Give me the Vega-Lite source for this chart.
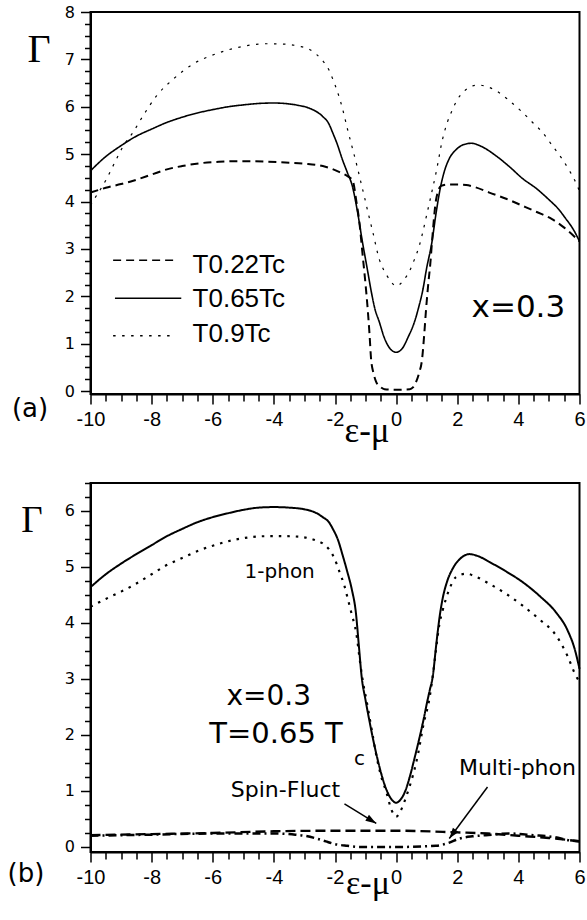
{
"$schema": "https://vega.github.io/schema/vega-lite/v6.json",
"background": "white",
"padding": {"left": 6.5, "top": 3, "right": 2, "bottom": 2},
"bounds": "flush",
"spacing": 89,
"resolve": {"scale": {"strokeDash": "independent", "strokeWidth": "independent"}},
"config": {
 "view": {"stroke": "black", "strokeWidth": 2},
 "axis": {"domainColor": "black", "domainWidth": 2, "tickColor": "black", "tickWidth": 1.5, "labelColor": "black", "grid": false, "labelOverlap": false, "labelFlush": false, "titleColor": "black", "titleFontWeight": "normal"},
 "line": {"color": "black"},
 "rule": {"color": "black"},
 "text": {"color": "black"}
},
"vconcat": [
{
 "width": 489, "height": 382,
 "encoding": {
  "x": {"field": "x", "type": "quantitative", "scale": {"domain": [-10, 6], "nice": false, "zero": false},
   "axis": {"values": [-10,-9.5,-9,-8.5,-8,-7.5,-7,-6.5,-6,-5.5,-5,-4.5,-4,-3.5,-3,-2.5,-2,-1.5,-1,-0.5,0,0.5,1,1.5,2,2.5,3,3.5,4,4.5,5,5.5,6],
    "labelExpr": "datum.value % 2 === 0 ? '' + datum.value : ''",
    "tickSize": {"condition": {"test": "datum.value % 2 === 0", "value": 10}, "value": 7},
    "labelFont": "Liberation Sans", "labelFontSize": 20, "labelPadding": 5,
    "title": "ε-μ", "titleFont": "Liberation Serif", "titleFontSize": 35, "titleX": 276, "titleY": 47, "titleAlign": "center", "titleBaseline": "alphabetic"}},
  "y": {"field": "y", "type": "quantitative", "scale": {"domain": [-0.06, 8], "nice": false, "zero": false},
   "axis": {"values": [0,0.25,0.5,0.75,1,1.25,1.5,1.75,2,2.25,2.5,2.75,3,3.25,3.5,3.75,4,4.25,4.5,4.75,5,5.25,5.5,5.75,6,6.25,6.5,6.75,7,7.25,7.5,7.75,8],
    "labelExpr": "datum.value % 1 === 0 ? '' + datum.value : ''",
    "tickSize": {"condition": {"test": "datum.value % 1 === 0", "value": 10}, "value": 6},
    "labelFont": "DejaVu Sans", "labelFontSize": 16, "labelPadding": 6,
    "title": "Γ", "titleFont": "Liberation Serif", "titleFontSize": 40, "titleAngle": 0, "titleX": -52, "titleY": 49, "titleAlign": "center", "titleBaseline": "alphabetic"}}
 },
 "layer": [
  {
   "data": {"values": [
{"x":-10,"y":4.65,"s":"T0.65Tc"},{"x":-9.5,"y":4.95,"s":"T0.65Tc"},{"x":-9,"y":5.18,"s":"T0.65Tc"},{"x":-8.5,"y":5.38,"s":"T0.65Tc"},{"x":-8,"y":5.53,"s":"T0.65Tc"},{"x":-7.5,"y":5.67,"s":"T0.65Tc"},{"x":-7,"y":5.78,"s":"T0.65Tc"},{"x":-6.5,"y":5.87,"s":"T0.65Tc"},{"x":-6,"y":5.94,"s":"T0.65Tc"},{"x":-5.5,"y":6.0,"s":"T0.65Tc"},{"x":-5,"y":6.04,"s":"T0.65Tc"},{"x":-4.5,"y":6.07,"s":"T0.65Tc"},{"x":-4,"y":6.08,"s":"T0.65Tc"},{"x":-3.5,"y":6.06,"s":"T0.65Tc"},{"x":-3.2,"y":6.03,"s":"T0.65Tc"},{"x":-2.8,"y":5.96,"s":"T0.65Tc"},{"x":-2.41,"y":5.8,"s":"T0.65Tc"},{"x":-2.2,"y":5.64,"s":"T0.65Tc"},{"x":-2.08,"y":5.46,"s":"T0.65Tc"},{"x":-1.92,"y":5.2,"s":"T0.65Tc"},{"x":-1.76,"y":4.89,"s":"T0.65Tc"},{"x":-1.6,"y":4.62,"s":"T0.65Tc"},{"x":-1.43,"y":4.32,"s":"T0.65Tc"},{"x":-1.26,"y":3.77,"s":"T0.65Tc"},{"x":-1.1,"y":3.14,"s":"T0.65Tc"},{"x":-0.95,"y":2.6,"s":"T0.65Tc"},{"x":-0.81,"y":2.09,"s":"T0.65Tc"},{"x":-0.7,"y":1.75,"s":"T0.65Tc"},{"x":-0.55,"y":1.46,"s":"T0.65Tc"},{"x":-0.4,"y":1.15,"s":"T0.65Tc"},{"x":-0.2,"y":0.9,"s":"T0.65Tc"},{"x":0,"y":0.82,"s":"T0.65Tc"},{"x":0.2,"y":0.9,"s":"T0.65Tc"},{"x":0.4,"y":1.15,"s":"T0.65Tc"},{"x":0.6,"y":1.46,"s":"T0.65Tc"},{"x":0.75,"y":1.8,"s":"T0.65Tc"},{"x":0.86,"y":2.09,"s":"T0.65Tc"},{"x":1.0,"y":2.6,"s":"T0.65Tc"},{"x":1.17,"y":3.14,"s":"T0.65Tc"},{"x":1.31,"y":3.77,"s":"T0.65Tc"},{"x":1.45,"y":4.3,"s":"T0.65Tc"},{"x":1.57,"y":4.62,"s":"T0.65Tc"},{"x":1.75,"y":4.92,"s":"T0.65Tc"},{"x":1.97,"y":5.1,"s":"T0.65Tc"},{"x":2.2,"y":5.2,"s":"T0.65Tc"},{"x":2.46,"y":5.23,"s":"T0.65Tc"},{"x":2.8,"y":5.16,"s":"T0.65Tc"},{"x":3.28,"y":4.96,"s":"T0.65Tc"},{"x":3.7,"y":4.74,"s":"T0.65Tc"},{"x":4.13,"y":4.49,"s":"T0.65Tc"},{"x":4.6,"y":4.27,"s":"T0.65Tc"},{"x":5.0,"y":4.04,"s":"T0.65Tc"},{"x":5.3,"y":3.85,"s":"T0.65Tc"},{"x":5.55,"y":3.64,"s":"T0.65Tc"},{"x":5.8,"y":3.41,"s":"T0.65Tc"},{"x":6.0,"y":3.16,"s":"T0.65Tc"},
{"x":-10,"y":4.19,"s":"T0.22Tc"},{"x":-9.5,"y":4.29,"s":"T0.22Tc"},{"x":-9,"y":4.37,"s":"T0.22Tc"},{"x":-8.6,"y":4.44,"s":"T0.22Tc"},{"x":-8,"y":4.57,"s":"T0.22Tc"},{"x":-7.5,"y":4.68,"s":"T0.22Tc"},{"x":-7,"y":4.75,"s":"T0.22Tc"},{"x":-6.4,"y":4.81,"s":"T0.22Tc"},{"x":-5.8,"y":4.84,"s":"T0.22Tc"},{"x":-5.3,"y":4.85,"s":"T0.22Tc"},{"x":-4.7,"y":4.85,"s":"T0.22Tc"},{"x":-4.2,"y":4.84,"s":"T0.22Tc"},{"x":-3.5,"y":4.82,"s":"T0.22Tc"},{"x":-3,"y":4.8,"s":"T0.22Tc"},{"x":-2.4,"y":4.75,"s":"T0.22Tc"},{"x":-2.1,"y":4.69,"s":"T0.22Tc"},{"x":-1.85,"y":4.62,"s":"T0.22Tc"},{"x":-1.6,"y":4.54,"s":"T0.22Tc"},{"x":-1.42,"y":4.44,"s":"T0.22Tc"},{"x":-1.3,"y":4.0,"s":"T0.22Tc"},{"x":-1.2,"y":3.55,"s":"T0.22Tc"},{"x":-1.1,"y":2.9,"s":"T0.22Tc"},{"x":-1.0,"y":2.25,"s":"T0.22Tc"},{"x":-0.93,"y":1.73,"s":"T0.22Tc"},{"x":-0.87,"y":1.2,"s":"T0.22Tc"},{"x":-0.82,"y":0.68,"s":"T0.22Tc"},{"x":-0.74,"y":0.38,"s":"T0.22Tc"},{"x":-0.65,"y":0.19,"s":"T0.22Tc"},{"x":-0.5,"y":0.08,"s":"T0.22Tc"},{"x":-0.38,"y":0.04,"s":"T0.22Tc"},{"x":0,"y":0.03,"s":"T0.22Tc"},{"x":0.45,"y":0.04,"s":"T0.22Tc"},{"x":0.55,"y":0.08,"s":"T0.22Tc"},{"x":0.65,"y":0.19,"s":"T0.22Tc"},{"x":0.75,"y":0.38,"s":"T0.22Tc"},{"x":0.85,"y":0.68,"s":"T0.22Tc"},{"x":0.92,"y":1.2,"s":"T0.22Tc"},{"x":0.98,"y":1.73,"s":"T0.22Tc"},{"x":1.05,"y":2.25,"s":"T0.22Tc"},{"x":1.12,"y":2.7,"s":"T0.22Tc"},{"x":1.18,"y":3.2,"s":"T0.22Tc"},{"x":1.31,"y":4.05,"s":"T0.22Tc"},{"x":1.47,"y":4.33,"s":"T0.22Tc"},{"x":1.7,"y":4.36,"s":"T0.22Tc"},{"x":2.0,"y":4.36,"s":"T0.22Tc"},{"x":2.29,"y":4.35,"s":"T0.22Tc"},{"x":2.6,"y":4.3,"s":"T0.22Tc"},{"x":3.05,"y":4.19,"s":"T0.22Tc"},{"x":3.6,"y":4.06,"s":"T0.22Tc"},{"x":4.14,"y":3.91,"s":"T0.22Tc"},{"x":4.6,"y":3.78,"s":"T0.22Tc"},{"x":5.1,"y":3.63,"s":"T0.22Tc"},{"x":5.5,"y":3.45,"s":"T0.22Tc"},{"x":6,"y":3.16,"s":"T0.22Tc"},
{"x":-10,"y":3.92,"s":"T0.9Tc"},{"x":-9.88,"y":4.05,"s":"T0.9Tc"},{"x":-9.7,"y":4.23,"s":"T0.9Tc"},{"x":-9.48,"y":4.47,"s":"T0.9Tc"},{"x":-9.21,"y":4.82,"s":"T0.9Tc"},{"x":-8.93,"y":5.17,"s":"T0.9Tc"},{"x":-8.61,"y":5.46,"s":"T0.9Tc"},{"x":-8.28,"y":5.81,"s":"T0.9Tc"},{"x":-7.84,"y":6.23,"s":"T0.9Tc"},{"x":-7.3,"y":6.58,"s":"T0.9Tc"},{"x":-6.65,"y":6.9,"s":"T0.9Tc"},{"x":-5.88,"y":7.12,"s":"T0.9Tc"},{"x":-5.12,"y":7.26,"s":"T0.9Tc"},{"x":-4.25,"y":7.33,"s":"T0.9Tc"},{"x":-3.59,"y":7.32,"s":"T0.9Tc"},{"x":-3.2,"y":7.28,"s":"T0.9Tc"},{"x":-2.83,"y":7.21,"s":"T0.9Tc"},{"x":-2.6,"y":7.1,"s":"T0.9Tc"},{"x":-2.4,"y":6.97,"s":"T0.9Tc"},{"x":-2.2,"y":6.78,"s":"T0.9Tc"},{"x":-2.07,"y":6.58,"s":"T0.9Tc"},{"x":-1.9,"y":6.28,"s":"T0.9Tc"},{"x":-1.75,"y":5.95,"s":"T0.9Tc"},{"x":-1.6,"y":5.55,"s":"T0.9Tc"},{"x":-1.42,"y":5.1,"s":"T0.9Tc"},{"x":-1.28,"y":4.75,"s":"T0.9Tc"},{"x":-1.15,"y":4.4,"s":"T0.9Tc"},{"x":-1.03,"y":4.08,"s":"T0.9Tc"},{"x":-0.93,"y":3.8,"s":"T0.9Tc"},{"x":-0.76,"y":3.35,"s":"T0.9Tc"},{"x":-0.55,"y":2.78,"s":"T0.9Tc"},{"x":-0.4,"y":2.55,"s":"T0.9Tc"},{"x":-0.22,"y":2.36,"s":"T0.9Tc"},{"x":0,"y":2.22,"s":"T0.9Tc"},{"x":0.27,"y":2.36,"s":"T0.9Tc"},{"x":0.45,"y":2.55,"s":"T0.9Tc"},{"x":0.6,"y":2.78,"s":"T0.9Tc"},{"x":0.75,"y":3.05,"s":"T0.9Tc"},{"x":0.87,"y":3.35,"s":"T0.9Tc"},{"x":0.98,"y":3.66,"s":"T0.9Tc"},{"x":1.15,"y":4.15,"s":"T0.9Tc"},{"x":1.31,"y":4.62,"s":"T0.9Tc"},{"x":1.52,"y":5.32,"s":"T0.9Tc"},{"x":1.68,"y":5.68,"s":"T0.9Tc"},{"x":1.85,"y":5.95,"s":"T0.9Tc"},{"x":2.0,"y":6.15,"s":"T0.9Tc"},{"x":2.18,"y":6.3,"s":"T0.9Tc"},{"x":2.4,"y":6.41,"s":"T0.9Tc"},{"x":2.67,"y":6.46,"s":"T0.9Tc"},{"x":2.95,"y":6.43,"s":"T0.9Tc"},{"x":3.27,"y":6.34,"s":"T0.9Tc"},{"x":3.7,"y":6.13,"s":"T0.9Tc"},{"x":4.14,"y":5.88,"s":"T0.9Tc"},{"x":4.45,"y":5.68,"s":"T0.9Tc"},{"x":4.79,"y":5.46,"s":"T0.9Tc"},{"x":5.1,"y":5.19,"s":"T0.9Tc"},{"x":5.44,"y":4.89,"s":"T0.9Tc"},{"x":5.7,"y":4.62,"s":"T0.9Tc"},{"x":5.93,"y":4.33,"s":"T0.9Tc"},{"x":6,"y":4.22,"s":"T0.9Tc"}
   ]},
   "mark": {"type": "line", "color": "black", "interpolate": "monotone"},
   "encoding": {
    "detail": {"field": "s", "type": "nominal"},
    "strokeDash": {"field": "s", "type": "nominal", "scale": {"domain": ["T0.22Tc", "T0.65Tc", "T0.9Tc"], "range": [[8, 5], [1, 0], [2.5, 6.5]]}, "legend": null},
    "strokeWidth": {"field": "s", "type": "nominal", "scale": {"domain": ["T0.22Tc", "T0.65Tc", "T0.9Tc"], "range": [2, 1.2, 2.5]}, "legend": null}
   }
  },
  {
   "data": {"values": [
    {"x": -9.26, "x2": -7.15, "y": 2.76, "s": "T0.22Tc"},
    {"x": -9.2, "x2": -7.03, "y": 1.96, "s": "T0.65Tc"},
    {"x": -9.26, "x2": -7.31, "y": 1.17, "s": "T0.9Tc"}
   ]},
   "mark": {"type": "rule", "color": "black", "strokeWidth": 1.5},
   "encoding": {
    "x2": {"field": "x2"},
    "strokeDash": {"field": "s", "type": "nominal", "legend": null}
   }
  },
  {
   "data": {"values": [
    {"x": -6.66, "y": 2.5, "t": "T0.22Tc"},
    {"x": -6.66, "y": 1.77, "t": "T0.65Tc"},
    {"x": -6.66, "y": 1.03, "t": "T0.9Tc"}
   ]},
   "mark": {"type": "text", "font": "Liberation Sans", "fontSize": 26, "align": "left", "baseline": "alphabetic"},
   "encoding": {"text": {"field": "t"}}
  },
  {
   "data": {"values": [{"x": 4.0, "y": 1.56, "t": "x=0.3"}]},
   "mark": {"type": "text", "font": "DejaVu Sans", "fontSize": 31, "align": "center", "baseline": "alphabetic"},
   "encoding": {"text": {"field": "t"}}
  },
  {
   "data": {"values": [{"x": -11.98, "y": -0.55, "t": "(a)"}]},
   "mark": {"type": "text", "font": "DejaVu Sans", "fontSize": 26, "align": "center", "baseline": "alphabetic"},
   "encoding": {"text": {"field": "t"}}
  }
 ]
},
{
 "width": 489, "height": 369,
 "encoding": {
  "x": {"field": "x", "type": "quantitative", "scale": {"domain": [-10, 6], "nice": false, "zero": false},
   "axis": {"values": [-10,-9.5,-9,-8.5,-8,-7.5,-7,-6.5,-6,-5.5,-5,-4.5,-4,-3.5,-3,-2.5,-2,-1.5,-1,-0.5,0,0.5,1,1.5,2,2.5,3,3.5,4,4.5,5,5.5,6],
    "labelExpr": "datum.value % 2 === 0 ? '' + datum.value : ''",
    "tickSize": {"condition": {"test": "datum.value % 2 === 0", "value": 10}, "value": 7},
    "labelFont": "Liberation Sans", "labelFontSize": 20, "labelPadding": 5,
    "title": "ε-μ", "titleFont": "Liberation Serif", "titleFontSize": 34, "titleX": 277, "titleY": 41, "titleAlign": "center", "titleBaseline": "alphabetic"}},
  "y": {"field": "y", "type": "quantitative", "scale": {"domain": [-0.09, 6.5], "nice": false, "zero": false},
   "axis": {"values": [0,0.25,0.5,0.75,1,1.25,1.5,1.75,2,2.25,2.5,2.75,3,3.25,3.5,3.75,4,4.25,4.5,4.75,5,5.25,5.5,5.75,6,6.25,6.5],
    "labelExpr": "datum.value % 1 === 0 ? '' + datum.value : ''",
    "tickSize": {"condition": {"test": "datum.value % 1 === 0", "value": 10}, "value": 6},
    "labelFont": "DejaVu Sans", "labelFontSize": 16, "labelPadding": 6,
    "title": "Γ", "titleFont": "Liberation Serif", "titleFontSize": 37, "titleAngle": 0, "titleX": -59, "titleY": 48, "titleAlign": "center", "titleBaseline": "alphabetic"}}
 },
 "layer": [
  {
   "data": {"values": [
{"x":-10,"y":4.64,"s":"Total"},{"x":-9.5,"y":4.87,"s":"Total"},{"x":-9,"y":5.06,"s":"Total"},{"x":-8.5,"y":5.23,"s":"Total"},{"x":-8,"y":5.39,"s":"Total"},{"x":-7.5,"y":5.55,"s":"Total"},{"x":-7,"y":5.68,"s":"Total"},{"x":-6.5,"y":5.8,"s":"Total"},{"x":-6,"y":5.89,"s":"Total"},{"x":-5.5,"y":5.96,"s":"Total"},{"x":-5,"y":6.02,"s":"Total"},{"x":-4.5,"y":6.06,"s":"Total"},{"x":-4,"y":6.07,"s":"Total"},{"x":-3.5,"y":6.06,"s":"Total"},{"x":-3,"y":6.03,"s":"Total"},{"x":-2.6,"y":5.96,"s":"Total"},{"x":-2.4,"y":5.89,"s":"Total"},{"x":-2.2,"y":5.8,"s":"Total"},{"x":-2.07,"y":5.68,"s":"Total"},{"x":-1.9,"y":5.48,"s":"Total"},{"x":-1.75,"y":5.21,"s":"Total"},{"x":-1.6,"y":4.92,"s":"Total"},{"x":-1.45,"y":4.6,"s":"Total"},{"x":-1.32,"y":4.2,"s":"Total"},{"x":-1.22,"y":3.6,"s":"Total"},{"x":-1.13,"y":3.05,"s":"Total"},{"x":-1.0,"y":2.62,"s":"Total"},{"x":-0.88,"y":2.27,"s":"Total"},{"x":-0.76,"y":1.94,"s":"Total"},{"x":-0.6,"y":1.55,"s":"Total"},{"x":-0.44,"y":1.22,"s":"Total"},{"x":-0.3,"y":1.0,"s":"Total"},{"x":-0.15,"y":0.85,"s":"Total"},{"x":0,"y":0.79,"s":"Total"},{"x":0.15,"y":0.85,"s":"Total"},{"x":0.3,"y":1.0,"s":"Total"},{"x":0.43,"y":1.22,"s":"Total"},{"x":0.6,"y":1.58,"s":"Total"},{"x":0.76,"y":1.94,"s":"Total"},{"x":0.9,"y":2.28,"s":"Total"},{"x":1.0,"y":2.55,"s":"Total"},{"x":1.1,"y":2.8,"s":"Total"},{"x":1.2,"y":3.05,"s":"Total"},{"x":1.31,"y":3.6,"s":"Total"},{"x":1.42,"y":4.1,"s":"Total"},{"x":1.52,"y":4.43,"s":"Total"},{"x":1.68,"y":4.76,"s":"Total"},{"x":1.85,"y":4.97,"s":"Total"},{"x":2.1,"y":5.15,"s":"Total"},{"x":2.4,"y":5.23,"s":"Total"},{"x":2.7,"y":5.19,"s":"Total"},{"x":3.05,"y":5.09,"s":"Total"},{"x":3.6,"y":4.92,"s":"Total"},{"x":4.14,"y":4.73,"s":"Total"},{"x":4.7,"y":4.48,"s":"Total"},{"x":5.23,"y":4.19,"s":"Total"},{"x":5.6,"y":3.88,"s":"Total"},{"x":5.85,"y":3.52,"s":"Total"},{"x":6.0,"y":3.18,"s":"Total"},
{"x":-10,"y":4.29,"s":"1-phon"},{"x":-9.5,"y":4.43,"s":"1-phon"},{"x":-9,"y":4.56,"s":"1-phon"},{"x":-8.61,"y":4.67,"s":"1-phon"},{"x":-8,"y":4.87,"s":"1-phon"},{"x":-7.52,"y":5.03,"s":"1-phon"},{"x":-7,"y":5.16,"s":"1-phon"},{"x":-6.43,"y":5.3,"s":"1-phon"},{"x":-6,"y":5.38,"s":"1-phon"},{"x":-5.34,"y":5.48,"s":"1-phon"},{"x":-4.8,"y":5.53,"s":"1-phon"},{"x":-4.25,"y":5.55,"s":"1-phon"},{"x":-3.6,"y":5.55,"s":"1-phon"},{"x":-3.16,"y":5.54,"s":"1-phon"},{"x":-2.83,"y":5.51,"s":"1-phon"},{"x":-2.6,"y":5.47,"s":"1-phon"},{"x":-2.4,"y":5.42,"s":"1-phon"},{"x":-2.2,"y":5.32,"s":"1-phon"},{"x":-2.07,"y":5.21,"s":"1-phon"},{"x":-1.95,"y":5.06,"s":"1-phon"},{"x":-1.85,"y":4.91,"s":"1-phon"},{"x":-1.7,"y":4.68,"s":"1-phon"},{"x":-1.58,"y":4.43,"s":"1-phon"},{"x":-1.45,"y":4.15,"s":"1-phon"},{"x":-1.31,"y":3.84,"s":"1-phon"},{"x":-1.18,"y":3.3,"s":"1-phon"},{"x":-1.07,"y":2.9,"s":"1-phon"},{"x":-0.98,"y":2.65,"s":"1-phon"},{"x":-0.8,"y":2.1,"s":"1-phon"},{"x":-0.65,"y":1.64,"s":"1-phon"},{"x":-0.5,"y":1.28,"s":"1-phon"},{"x":-0.32,"y":0.98,"s":"1-phon"},{"x":-0.15,"y":0.66,"s":"1-phon"},{"x":0,"y":0.54,"s":"1-phon"},{"x":0.15,"y":0.65,"s":"1-phon"},{"x":0.38,"y":0.98,"s":"1-phon"},{"x":0.55,"y":1.28,"s":"1-phon"},{"x":0.71,"y":1.64,"s":"1-phon"},{"x":0.9,"y":2.2,"s":"1-phon"},{"x":1.09,"y":2.65,"s":"1-phon"},{"x":1.2,"y":3.06,"s":"1-phon"},{"x":1.3,"y":3.5,"s":"1-phon"},{"x":1.41,"y":3.96,"s":"1-phon"},{"x":1.52,"y":4.22,"s":"1-phon"},{"x":1.63,"y":4.43,"s":"1-phon"},{"x":1.8,"y":4.68,"s":"1-phon"},{"x":1.96,"y":4.82,"s":"1-phon"},{"x":2.29,"y":4.88,"s":"1-phon"},{"x":2.6,"y":4.83,"s":"1-phon"},{"x":3.05,"y":4.7,"s":"1-phon"},{"x":3.6,"y":4.52,"s":"1-phon"},{"x":4.14,"y":4.31,"s":"1-phon"},{"x":4.7,"y":4.06,"s":"1-phon"},{"x":5.23,"y":3.78,"s":"1-phon"},{"x":5.6,"y":3.42,"s":"1-phon"},{"x":5.88,"y":3.06,"s":"1-phon"},{"x":6,"y":2.95,"s":"1-phon"},
{"x":-10,"y":0.21,"s":"Spin-Fluct"},{"x":-8,"y":0.23,"s":"Spin-Fluct"},{"x":-6,"y":0.25,"s":"Spin-Fluct"},{"x":-4,"y":0.28,"s":"Spin-Fluct"},{"x":-2,"y":0.29,"s":"Spin-Fluct"},{"x":0,"y":0.29,"s":"Spin-Fluct"},{"x":2,"y":0.26,"s":"Spin-Fluct"},{"x":3,"y":0.24,"s":"Spin-Fluct"},{"x":4,"y":0.2,"s":"Spin-Fluct"},{"x":5,"y":0.16,"s":"Spin-Fluct"},{"x":6,"y":0.1,"s":"Spin-Fluct"},
{"x":-10,"y":0.2,"s":"Multi-phon"},{"x":-8,"y":0.22,"s":"Multi-phon"},{"x":-6,"y":0.24,"s":"Multi-phon"},{"x":-4,"y":0.24,"s":"Multi-phon"},{"x":-3.3,"y":0.22,"s":"Multi-phon"},{"x":-3,"y":0.2,"s":"Multi-phon"},{"x":-2.6,"y":0.15,"s":"Multi-phon"},{"x":-2.3,"y":0.1,"s":"Multi-phon"},{"x":-2.07,"y":0.06,"s":"Multi-phon"},{"x":-1.6,"y":0.02,"s":"Multi-phon"},{"x":-1.2,"y":0.0,"s":"Multi-phon"},{"x":0,"y":0.0,"s":"Multi-phon"},{"x":1.3,"y":0.02,"s":"Multi-phon"},{"x":1.7,"y":0.07,"s":"Multi-phon"},{"x":2.07,"y":0.15,"s":"Multi-phon"},{"x":2.5,"y":0.19,"s":"Multi-phon"},{"x":2.94,"y":0.21,"s":"Multi-phon"},{"x":3.7,"y":0.24,"s":"Multi-phon"},{"x":4.5,"y":0.21,"s":"Multi-phon"},{"x":5.12,"y":0.18,"s":"Multi-phon"},{"x":5.77,"y":0.11,"s":"Multi-phon"},{"x":6,"y":0.1,"s":"Multi-phon"}
   ]},
   "mark": {"type": "line", "color": "black", "interpolate": "monotone"},
   "encoding": {
    "detail": {"field": "s", "type": "nominal"},
    "strokeDash": {"field": "s", "type": "nominal", "scale": {"domain": ["Total", "1-phon", "Spin-Fluct", "Multi-phon"], "range": [[1, 0], [2.5, 6], [10, 5], [8, 4, 2, 4]]}, "legend": null},
    "strokeWidth": {"field": "s", "type": "nominal", "scale": {"domain": ["Total", "1-phon", "Spin-Fluct", "Multi-phon"], "range": [2, 2.5, 1.5, 1.5]}, "legend": null}
   }
  },
  {
   "data": {"values": [
    {"x": -1.69, "y": 0.77, "x2": -0.65, "y2": 0.42},
    {"x": 2.99, "y": 1.07, "x2": 1.74, "y2": 0.15}
   ]},
   "mark": {"type": "rule", "color": "black", "strokeWidth": 1.5},
   "encoding": {"x2": {"field": "x2"}, "y2": {"field": "y2"}}
  },
  {
   "data": {"values": [{"x": -0.65, "y": 0.42}]},
   "mark": {"type": "point", "shape": "M0,0L-0.55,1.7L0.55,1.7Z", "size": 160, "filled": true, "color": "black", "opacity": 1, "angle": 122},
   "encoding": {}
  },
  {
   "data": {"values": [{"x": 1.74, "y": 0.15}]},
   "mark": {"type": "point", "shape": "M0,0L-0.55,1.7L0.55,1.7Z", "size": 160, "filled": true, "color": "black", "opacity": 1, "angle": 216.5},
   "encoding": {}
  },
  {
   "data": {"values": [{"x": -3.81, "y": 4.8, "t": "1-phon"}]},
   "mark": {"type": "text", "font": "DejaVu Sans", "fontSize": 20, "align": "center", "baseline": "alphabetic"},
   "encoding": {"text": {"field": "t"}}
  },
  {
   "data": {"values": [{"x": -4.17, "y": 2.54, "t": "x=0.3"}]},
   "mark": {"type": "text", "font": "DejaVu Sans", "fontSize": 28, "align": "center", "baseline": "alphabetic"},
   "encoding": {"text": {"field": "t"}}
  },
  {
   "data": {"values": [{"x": -3.93, "y": 1.86, "t": "T=0.65 T"}]},
   "mark": {"type": "text", "font": "DejaVu Sans", "fontSize": 29, "align": "center", "baseline": "alphabetic"},
   "encoding": {"text": {"field": "t"}}
  },
  {
   "data": {"values": [{"x": -1.2, "y": 1.47, "t": "c"}]},
   "mark": {"type": "text", "font": "DejaVu Sans", "fontSize": 20, "align": "center", "baseline": "alphabetic"},
   "encoding": {"text": {"field": "t"}}
  },
  {
   "data": {"values": [{"x": -3.62, "y": 0.89, "t": "Spin-Fluct"}, {"x": 3.97, "y": 1.28, "t": "Multi-phon"}]},
   "mark": {"type": "text", "font": "DejaVu Sans", "fontSize": 22, "align": "center", "baseline": "alphabetic"},
   "encoding": {"text": {"field": "t"}}
  },
  {
   "data": {"values": [{"x": -12.11, "y": -0.62, "t": "(b)"}]},
   "mark": {"type": "text", "font": "DejaVu Sans", "fontSize": 26, "align": "center", "baseline": "alphabetic"},
   "encoding": {"text": {"field": "t"}}
  }
 ]
}
]
}
